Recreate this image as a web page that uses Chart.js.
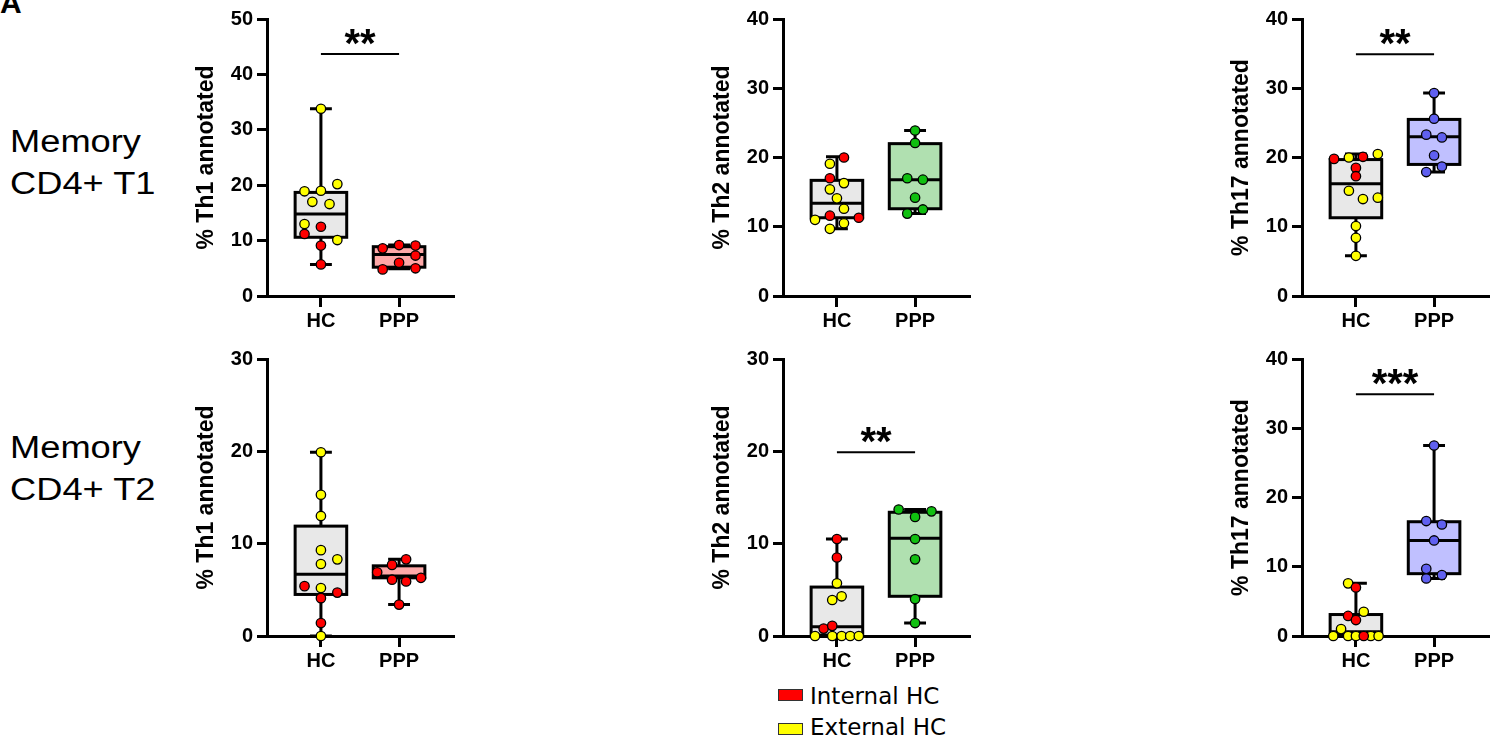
<!DOCTYPE html>
<html><head><meta charset="utf-8">
<script src="https://cdn.jsdelivr.net/npm/chart.js@4.4.1/dist/chart.umd.min.js"></script>
<style>
body{margin:0;background:#fff;width:1497px;height:743px;overflow:hidden;position:relative;font-family:'Liberation Sans',Arial,sans-serif;}
canvas{position:absolute;}
.row{position:absolute;left:10px;font-size:31px;line-height:42px;color:#000;transform:scaleX(1.17);transform-origin:left top;white-space:nowrap;}
.lg{position:absolute;font-family:'DejaVu Sans',sans-serif;font-size:23px;line-height:23px;color:#000;white-space:nowrap;}
.sw{position:absolute;width:23px;height:10px;border:1px solid #333;}
</style></head><body>
<div style="position:absolute;left:0;top:-12px;font-size:30px;line-height:30px;font-weight:bold;">A</div>
<div class="row" id="r1" style="top:121px"></div>
<div class="row" id="r2" style="top:427px"></div>
<div class="sw" style="left:778px;top:689px;background:#ff0000"></div>
<div class="lg" id="lg1" style="left:810px;top:685px"></div>
<div class="sw" style="left:778px;top:723px;background:#ffff00"></div>
<div class="lg" id="lg2" style="left:810px;top:716px"></div>
<canvas id="c1" width="294" height="342" style="left:167px;top:-1px"></canvas>
<canvas id="c2" width="294" height="342" style="left:683px;top:-1px"></canvas>
<canvas id="c3" width="294" height="342" style="left:1202px;top:-1px"></canvas>
<canvas id="c4" width="294" height="342" style="left:167px;top:339px"></canvas>
<canvas id="c5" width="294" height="342" style="left:683px;top:339px"></canvas>
<canvas id="c6" width="294" height="342" style="left:1202px;top:339px"></canvas>
<script>
// ---------- data ----------
const categories = ['HC', 'PPP'];
const rowLabels = [['Memory', 'CD4+ T1'], ['Memory', 'CD4+ T2']];
const legendLabels = ['Internal HC', 'External HC'];
const panelTitles = ['% Th1 annotated', '% Th2 annotated', '% Th17 annotated', '% Th1 annotated', '% Th2 annotated', '% Th17 annotated'];
const panelYMax = [50, 40, 40, 30, 30, 40];
const sigLevels = [43.7, null, 34.9, null, 19.9, 34.9];
const sigLabels = ['**', '', '**', '', '**', '***'];

// Memory CD4+ T1 - Th1
const t1Th1HcInternal = [11.2, 12.5, 9.1, 5.7];
const t1Th1HcInternalJitter = [-0.21, 0, 0, 0];
const t1Th1HcExternal = [33.8, 18.9, 19.0, 20.2, 17.0, 16.6, 13.0, 10.1];
const t1Th1HcExternalJitter = [0, -0.21, 0, 0.21, -0.11, 0.11, -0.21, 0.21];
const t1Th1Ppp = [8.6, 9.2, 9.1, 7.3, 6.0, 4.8, 5.0];
const t1Th1PppJitter = [-0.21, 0, 0.21, 0.21, 0, -0.21, 0.21];
const t1Th1HcBox = [5.7, 10.6, 14.8, 18.7, 33.8];
const t1Th1PppBox = [4.9, 5.2, 7.5, 8.9, 9.2];

// Memory CD4+ T1 - Th2
const t1Th2HcInternal = [20.0, 17.0, 11.6, 11.3];
const t1Th2HcInternalJitter = [0.09, -0.09, -0.09, 0.28];
const t1Th2HcExternal = [19.1, 16.3, 15.4, 14.1, 12.6, 11.0, 10.5, 9.7];
const t1Th2HcExternalJitter = [-0.09, 0.09, -0.09, 0, 0.09, -0.28, 0.09, -0.09];
const t1Th2Ppp = [23.9, 22.1, 17.0, 16.8, 14.2, 11.9, 12.5];
const t1Th2PppJitter = [0, 0, -0.1, 0.1, 0, -0.1, 0.1];
const t1Th2HcBox = [9.7, 11.3, 13.4, 16.7, 20.1];
const t1Th2PppBox = [11.9, 12.6, 16.8, 22.0, 23.9];

// Memory CD4+ T1 - Th17
const t1Th17HcInternal = [19.8, 20.1, 18.5, 17.3];
const t1Th17HcInternalJitter = [-0.28, 0.09, 0, 0];
const t1Th17HcExternal = [20.0, 20.5, 15.2, 14.0, 14.2, 10.1, 8.4, 5.8];
const t1Th17HcExternalJitter = [-0.09, 0.28, -0.09, 0.09, 0.28, 0, 0, 0];
const t1Th17Ppp = [29.3, 25.6, 23.3, 22.9, 20.3, 18.7, 17.9];
const t1Th17PppJitter = [0, 0, -0.1, 0.1, 0, 0.1, -0.1];
const t1Th17HcBox = [5.8, 11.3, 16.2, 19.7, 20.5];
const t1Th17PppBox = [17.9, 19.0, 23.0, 25.5, 29.3];

// Memory CD4+ T2 - Th1
const t2Th1HcInternal = [5.4, 4.7, 4.1, 1.4];
const t2Th1HcInternalJitter = [-0.21, 0.21, 0, 0];
const t2Th1HcExternal = [19.9, 15.3, 13.0, 9.3, 7.8, 8.3, 5.2, 0];
const t2Th1HcExternalJitter = [0, 0, 0, 0, 0, 0.21, 0, 0];
const t2Th1Ppp = [8.3, 7.7, 6.9, 6.1, 5.9, 6.3, 3.4];
const t2Th1PppJitter = [0.09, -0.09, -0.28, -0.09, 0.09, 0.28, 0];
const t2Th1HcBox = [0, 4.5, 6.7, 11.9, 19.9];
const t2Th1PppBox = [3.4, 6.3, 6.5, 7.6, 8.3];

// Memory CD4+ T2 - Th2
const t2Th2HcInternal = [10.5, 8.5, 0.8, 1.1];
const t2Th2HcInternalJitter = [0, 0, -0.17, -0.06];
const t2Th2HcExternal = [5.7, 3.9, 4.3, 0, 0, 0, 0, 0];
const t2Th2HcExternalJitter = [0, -0.06, 0.06, -0.28, -0.06, 0.06, 0.17, 0.28];
const t2Th2Ppp = [13.7, 13.5, 12.9, 10.5, 8.3, 4.0, 1.4];
const t2Th2PppJitter = [-0.21, 0.21, 0, 0, 0, 0, 0];
const t2Th2HcBox = [0, 0.1, 1.0, 5.3, 10.5];
const t2Th2PppBox = [1.4, 4.3, 10.6, 13.4, 13.7];

// Memory CD4+ T2 - Th17
const t2Th17HcInternal = [7.0, 2.9, 2.3, 0];
const t2Th17HcInternalJitter = [0, -0.1, 0, 0.1];
const t2Th17HcExternal = [7.6, 3.5, 1.0, 0, 0, 0, 0, 0];
const t2Th17HcExternalJitter = [-0.1, 0.1, -0.19, -0.29, -0.1, 0, 0.19, 0.29];
const t2Th17Ppp = [27.5, 16.6, 16.1, 13.8, 9.7, 8.8, 8.3];
const t2Th17PppJitter = [0, -0.1, 0.1, 0, -0.1, 0.1, -0.1];
const t2Th17HcBox = [0, 0.2, 0.6, 3.1, 7.6];
const t2Th17PppBox = [8.3, 9.0, 13.8, 16.5, 27.5];

// ---------- styling ----------
const INTERNAL = '#ff0000', EXTERNAL = '#ffff00', HC_FILL = '#e8e8e8';
const PPP_POINT = ['#ff0000', '#10c010', '#6060f0'];
const PPP_FILL = ['#ffa8a8', '#b0e0b0', '#c0c0ff'];
const FONT = "'Liberation Sans', Arial, sans-serif";

document.getElementById('r1').innerHTML = rowLabels[0].join('<br>');
document.getElementById('r2').innerHTML = rowLabels[1].join('<br>');
document.getElementById('lg1').textContent = legendLabels[0];
document.getElementById('lg2').textContent = legendLabels[1];

const panels = [
  [t1Th1HcInternal, t1Th1HcInternalJitter, t1Th1HcExternal, t1Th1HcExternalJitter, t1Th1Ppp, t1Th1PppJitter, t1Th1HcBox, t1Th1PppBox],
  [t1Th2HcInternal, t1Th2HcInternalJitter, t1Th2HcExternal, t1Th2HcExternalJitter, t1Th2Ppp, t1Th2PppJitter, t1Th2HcBox, t1Th2PppBox],
  [t1Th17HcInternal, t1Th17HcInternalJitter, t1Th17HcExternal, t1Th17HcExternalJitter, t1Th17Ppp, t1Th17PppJitter, t1Th17HcBox, t1Th17PppBox],
  [t2Th1HcInternal, t2Th1HcInternalJitter, t2Th1HcExternal, t2Th1HcExternalJitter, t2Th1Ppp, t2Th1PppJitter, t2Th1HcBox, t2Th1PppBox],
  [t2Th2HcInternal, t2Th2HcInternalJitter, t2Th2HcExternal, t2Th2HcExternalJitter, t2Th2Ppp, t2Th2PppJitter, t2Th2HcBox, t2Th2PppBox],
  [t2Th17HcInternal, t2Th17HcInternalJitter, t2Th17HcExternal, t2Th17HcExternalJitter, t2Th17Ppp, t2Th17PppJitter, t2Th17HcBox, t2Th17PppBox]
];

const boxPlugin = {
  id: 'boxes',
  beforeDatasetsDraw(chart, args, opts) {
    const {ctx, scales: {x, y}} = chart;
    ctx.save();
    ctx.strokeStyle = '#000';
    opts.items.forEach(b => {
      const [mn, q1, md, q3, mx] = b.stats;
      const xc = x.getPixelForValue(b.x);
      const xl = x.getPixelForValue(b.x - opts.half), xr = x.getPixelForValue(b.x + opts.half);
      const cl = x.getPixelForValue(b.x - opts.cap), cr = x.getPixelForValue(b.x + opts.cap);
      ctx.lineWidth = 3;
      ctx.beginPath();
      ctx.moveTo(xc, y.getPixelForValue(mx)); ctx.lineTo(xc, y.getPixelForValue(q3));
      ctx.moveTo(xc, y.getPixelForValue(q1)); ctx.lineTo(xc, y.getPixelForValue(mn));
      ctx.moveTo(cl, y.getPixelForValue(mx)); ctx.lineTo(cr, y.getPixelForValue(mx));
      ctx.moveTo(cl, y.getPixelForValue(mn)); ctx.lineTo(cr, y.getPixelForValue(mn));
      ctx.stroke();
      const yt = y.getPixelForValue(q3), yb = y.getPixelForValue(q1);
      ctx.fillStyle = b.fill;
      ctx.fillRect(xl, yt, xr - xl, yb - yt);
      ctx.strokeRect(xl, yt, xr - xl, yb - yt);
      ctx.beginPath();
      ctx.moveTo(xl, y.getPixelForValue(md)); ctx.lineTo(xr, y.getPixelForValue(md));
      ctx.stroke();
    });
    ctx.restore();
  }
};

const sigPlugin = {
  id: 'sig',
  afterDatasetsDraw(chart, args, opts) {
    if (opts.level == null) return;
    const {ctx, scales: {x, y}} = chart;
    const yy = y.getPixelForValue(opts.level);
    ctx.save();
    ctx.strokeStyle = '#000'; ctx.lineWidth = 2;
    ctx.beginPath();
    ctx.moveTo(x.getPixelForValue(0), yy); ctx.lineTo(x.getPixelForValue(1), yy);
    ctx.stroke();
    ctx.fillStyle = '#000';
    ctx.font = 'bold 40px ' + FONT;
    ctx.textAlign = 'center'; ctx.textBaseline = 'alphabetic';
    ctx.fillText(opts.label, x.getPixelForValue(0.5), yy + 3);
    ctx.restore();
  }
};

function pts(vals, jit, cat) { return vals.map((v, i) => ({x: cat + jit[i], y: v})); }

panels.forEach((p, i) => {
  const [hi, hij, he, hej, pp, ppj, hb, pb] = p;
  const col = i % 3;
  const ds = (data, color) => ({data, backgroundColor: color, borderColor: '#000', borderWidth: 1.3, pointRadius: 4.7, pointHoverRadius: 4.7, clip: false});
  new Chart(document.getElementById('c' + (i + 1)), {
    type: 'scatter',
    data: {datasets: [ds(pts(hi, hij, 0), INTERNAL), ds(pts(he, hej, 0), EXTERNAL), ds(pts(pp, ppj, 1), PPP_POINT[col])]},
    options: {
      responsive: false, animation: false, devicePixelRatio: 1,
      layout: {padding: {left: 0, top: 20, right: 8, bottom: 0}},
      plugins: {
        legend: {display: false}, tooltip: {enabled: false},
        boxes: {half: 0.33, cap: 0.14, items: [{x: 0, stats: hb, fill: HC_FILL}, {x: 1, stats: pb, fill: PPP_FILL[col]}]},
        sig: {level: sigLevels[i], label: sigLabels[i]}
      },
      scales: {
        x: {
          type: 'linear', min: -0.69, max: 1.69,
          afterBuildTicks: s => { s.ticks = [{value: 0}, {value: 1}]; },
          afterFit: s => { s.height = 45; },
          ticks: {callback: v => categories[v], color: '#000', font: {family: FONT, size: 20, weight: 'bold'}, padding: 2, maxRotation: 0, autoSkip: false},
          grid: {drawOnChartArea: false, drawTicks: true, tickLength: 11, lineWidth: 3, color: '#000'},
          border: {display: true, width: 3, color: '#000'}
        },
        y: {
          min: 0, max: panelYMax[i],
          afterFit: s => { s.width = 100; },
          ticks: {stepSize: 10, color: '#000', font: {family: FONT, size: 20, weight: 'bold'}, padding: 4},
          grid: {drawOnChartArea: false, drawTicks: true, tickLength: 10, lineWidth: 3, color: '#000'},
          border: {display: true, width: 3, color: '#000'},
          title: {display: true, text: panelTitles[i], color: '#000', font: {family: FONT, size: 23, weight: 'bold', lineHeight: 1.2}, padding: {top: 26, bottom: 0}}
        }
      }
    },
    plugins: [boxPlugin, sigPlugin]
  });
});
</script>
</body></html>
